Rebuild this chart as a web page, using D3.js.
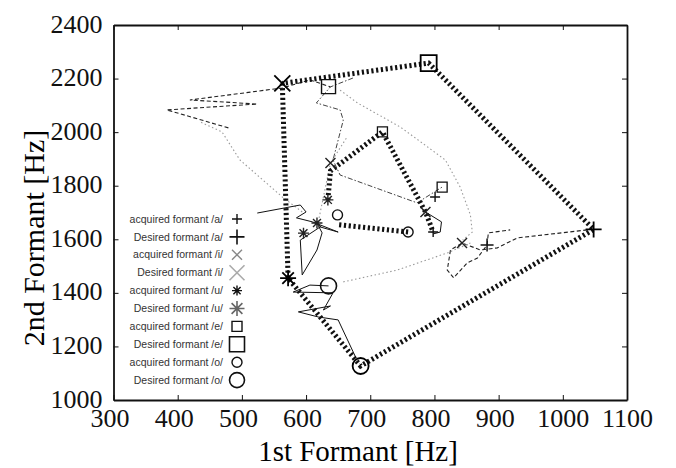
<!DOCTYPE html>
<html>
<head>
<meta charset="utf-8">
<script src="https://cdn.jsdelivr.net/npm/d3@7"></script>
<style>
  body { margin: 0; background: #fff; }
  .tick text { font-family: "Liberation Serif", "Times New Roman", serif; font-size: 26px; fill: #111; }
  .axis path, .axis line { stroke: #111; }
</style>
</head>
<body>
<div id="chart"></div>
<script>
// formant values in Hz
const vowels = ["a", "i", "u", "e", "o"];
const desiredF1 = [1048, 563, 572, 791, 685];
const desiredF2 = [1637, 2182, 1455, 2258, 1127];
const loopOrder = ["i", "u", "o", "a", "e", "i"];

// final acquired formants, small markers
const acquiredA = [[798, 1627], [801, 1758]];
const acquiredI = [[786, 1702], [843, 1586], [638, 1885]];
const acquiredU = [[634, 1747], [617, 1661], [596, 1623]];
const acquiredE = [[719, 2001], [812, 1795]];
const acquiredO = [[649, 1691], [759, 1627]];

// starting points, medium markers
const initialA = [[882, 1579]];
const initialE = [[635, 2170]];
const initialO = [[635, 1426]];

// thick dotted outline through the acquired vowels
const acquiredLoop = [[634, 1747], [638, 1855], [719, 2001], [786, 1702], [798, 1627]];
const acquiredTail = [[759, 1627], [650, 1655]];

// learning trajectories
const trajA = [[1038, 1635], [929, 1605], [898, 1568], [872, 1560], [843, 1586], [825, 1560], [820, 1485],
  [830, 1456], [851, 1512], [867, 1530], [882, 1579], [884, 1624], [918, 1635]];
const trajAArc = [[786, 1702], [811, 1665], [809, 1627], [798, 1620]];
const trajIDash = [[479, 2016], [383, 2083], [524, 2105], [419, 2120], [563, 2165], [606, 2195], [638, 2169]];
const trajIDot = [[594, 1702], [563, 1758], [497, 1896], [469, 2001], [435, 2038]];
const trajE = [[673, 2202], [638, 2169], [616, 2109], [653, 2083], [658, 2045], [642, 1896], [653, 1840],
  [773, 1736], [812, 1795]];
const trajEDot = [[653, 2157], [680, 2109], [747, 2019], [817, 1896], [840, 1795], [856, 1691], [859, 1627], [844, 1597]];
const trajU = [[524, 1698], [591, 1728], [600, 1702], [585, 1680], [610, 1665], [650, 1627], [622, 1646],
  [591, 1597], [594, 1467], [617, 1560], [625, 1624], [616, 1665]];
const trajUDot = [[619, 1665], [638, 1885], [664, 1982]];
const trajO = [[677, 1161], [650, 1299], [619, 1310], [588, 1329], [638, 1351], [627, 1336], [642, 1400],
  [580, 1403], [606, 1429], [635, 1426]];
const trajODot = [[658, 1441], [742, 1485], [820, 1549], [856, 1586]];

// tick values and legend labels
const xTicks = [300, 400, 500, 600, 700, 800, 900, 1000, 1100];
const yTicks = [1000, 1200, 1400, 1600, 1800, 2000, 2200, 2400];
const legendLabels = ["acquired formant /a/", "Desired formant /a/", "acquired formant /i/", "Desired formant /i/",
  "acquired formant /u/", "Desired formant /u/", "acquired formant /e/", "Desired formant /e/",
  "acquired formant /o/", "Desired formant /o/"];

// SVG definitions
const margin = {top: 25, right: 49, bottom: 68, left: 113.5};
const width = 676 - margin.left - margin.right;
const height = 468 - margin.top - margin.bottom;
const serif = '"Liberation Serif", "Times New Roman", serif';

const shapeOf = {a: "plus", i: "x", u: "asterisk", e: "square", o: "circle"};

/** path string for a stroked marker of half size s */
function markerPath(type, s) {
  const plus = `M${-s},0H${s}M0,${-s}V${s}`;
  const cross = `M${-s},${-s}L${s},${s}M${-s},${s}L${s},${-s}`;
  const d = s * 0.72;
  if (type === "plus") return plus;
  if (type === "x") return cross;
  if (type === "asterisk") return plus + `M${-d},${-d}L${d},${d}M${-d},${d}L${d},${-d}`;
  if (type === "square") return `M${-s},${-s}H${s}V${s}H${-s}Z`;
  return `M${s},0A${s},${s},0,1,1,${-s},0A${s},${s},0,1,1,${s},0`;
}

const svg = d3.select("#chart").append("svg")
  .attr("width", 676)
  .attr("height", 468);

const g = svg.append("g")
  .attr("transform", `translate(${margin.left}, ${margin.top})`);

const xScale = d3.scaleLinear().domain([300, 1100]).range([0, width]);
const yScale = d3.scaleLinear().domain([1000, 2400]).range([height, 0]);

// axes, ticks pointing inward on all four sides
g.append("g")
  .attr("class", "axis")
  .attr("transform", `translate(0, ${height})`)
  .call(d3.axisBottom(xScale).tickValues(xTicks).tickFormat(d3.format("d"))
    .tickSizeInner(-5).tickSizeOuter(0).tickPadding(9))
  .call(a => a.selectAll("text").attr("dx", d => d >= 1000 ? 0 : -4));
g.append("g")
  .attr("class", "axis")
  .call(d3.axisTop(xScale).tickValues(xTicks).tickSizeInner(-5).tickSizeOuter(0).tickFormat(""));
g.append("g")
  .attr("class", "axis")
  .call(d3.axisLeft(yScale).tickValues(yTicks).tickFormat(d3.format("d"))
    .tickSizeInner(-5).tickSizeOuter(0).tickPadding(11))
  .call(a => a.selectAll("text").attr("dy", "0.27em"));
g.append("g")
  .attr("class", "axis")
  .attr("transform", `translate(${width}, 0)`)
  .call(d3.axisRight(yScale).tickValues(yTicks).tickSizeInner(-5).tickSizeOuter(0).tickFormat(""));
g.selectAll(".axis path.domain").attr("stroke-width", 1.8);
g.selectAll(".tick text").attr("font-family", null).attr("font-size", null);

// axis labels
svg.append("text")
  .attr("x", 358)
  .attr("y", 461)
  .attr("text-anchor", "middle")
  .style("font-family", serif)
  .style("font-size", "29px")
  .text("1st Formant [Hz]");
svg.append("text")
  .attr("transform", "translate(44, 238) rotate(-90)")
  .attr("text-anchor", "middle")
  .style("font-family", serif)
  .style("font-size", "30px")
  .text("2nd Formant [Hz]");

const line = d3.line()
  .x(d => xScale(d[0]))
  .y(d => yScale(d[1]));

const plot = g.append("g");

// thin trajectories
const dashed = {stroke: "#222", w: 1.1, dash: "4,2.5"};
const dashDot = {stroke: "#444", w: 1, dash: "5,2,1.5,2"};
const dotted = {stroke: "#999", w: 1.1, dash: "1.5,2.5"};
const solid = {stroke: "#111", w: 1, dash: null};
const trajectories = [
  [trajA, dashed], [trajAArc, solid], [trajIDash, dashed], [trajIDot, dotted],
  [trajE, dashDot], [trajEDot, dotted], [trajU, solid], [trajUDot, dotted],
  [trajO, solid], [trajODot, dotted]
];
trajectories.forEach(([pts, st]) => {
  plot.append("path")
    .attr("d", line(pts))
    .attr("fill", "none")
    .attr("stroke", st.stroke)
    .attr("stroke-width", st.w)
    .attr("stroke-dasharray", st.dash);
});

// thick dotted outlines
const desiredLoop = loopOrder.map(v => {
  const i = vowels.indexOf(v);
  return [desiredF1[i], desiredF2[i]];
});
[desiredLoop, acquiredLoop, acquiredTail].forEach(pts => {
  plot.append("path")
    .attr("d", line(pts))
    .attr("fill", "none")
    .attr("stroke", "#111")
    .attr("stroke-width", 5)
    .attr("stroke-dasharray", "2.2,2.6");
});

// markers
function drawMarks(pts, vowel, s, w, color) {
  plot.selectAll(null)
    .data(pts)
    .join("path")
    .attr("transform", d => `translate(${xScale(d[0])}, ${yScale(d[1])})`)
    .attr("d", markerPath(shapeOf[vowel], s))
    .attr("fill", "none")
    .attr("stroke", color)
    .attr("stroke-width", w);
}
drawMarks(acquiredA, "a", 5, 1.4, "#111");
drawMarks(acquiredI, "i", 5, 1.4, "#222");
drawMarks(acquiredU, "u", 5.5, 1.4, "#222");
drawMarks(acquiredE, "e", 5, 1.3, "#111");
drawMarks(acquiredO, "o", 5, 1.4, "#111");
drawMarks(initialA, "a", 6.5, 1.5, "#111");
drawMarks(initialE, "e", 7, 1.4, "#111");
drawMarks(initialO, "o", 8, 1.6, "#111");
vowels.forEach((v, i) => drawMarks([[desiredF1[i], desiredF2[i]]], v, 8, 1.8, "#000"));

// legend
const legendColors = ["#111", "#111", "#888", "#aaa", "#111", "#666", "#111", "#111", "#111", "#111"];
const legend = svg.append("g");
legendLabels.forEach((label, i) => {
  const y = 219 + i * 17.9;
  const vowel = label.slice(-2, -1);
  const desired = label.startsWith("Desired");
  legend.append("text")
    .attr("x", 223)
    .attr("y", y)
    .attr("dy", "0.35em")
    .attr("text-anchor", "end")
    .style("font-family", '"Liberation Sans", Arial, sans-serif')
    .style("font-size", "10.5px")
    .style("fill", "#333")
    .text(label);
  legend.append("path")
    .attr("transform", `translate(237, ${y})`)
    .attr("d", markerPath(shapeOf[vowel], desired ? 7.5 : 5))
    .attr("fill", "none")
    .attr("stroke", legendColors[i])
    .attr("stroke-width", desired ? 1.6 : 1.4);
});
</script>
</body>
</html>
